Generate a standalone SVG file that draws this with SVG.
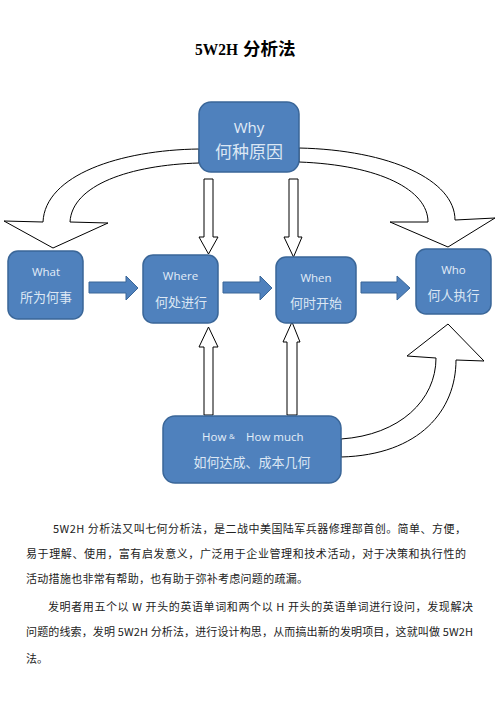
<svg xmlns="http://www.w3.org/2000/svg" width="496" height="702" viewBox="0 0 496 702">
<style>
.node{fill:#4F81BD;stroke:#3A6698;stroke-width:1.5}
.en{font-family:"Open Sans","Noto Sans",sans-serif;fill:#E3EDF8;text-anchor:middle}
.zh{font-family:"Noto Sans CJK SC",sans-serif;fill:#DCE7F4;text-anchor:middle}
.outline{fill:#fff;stroke:#000;stroke-width:1}
.block{fill:#4F81BD;stroke:#3A6698;stroke-width:1}
.para{font-family:"Noto Sans CJK SC",sans-serif;font-size:11px;fill:#222}
.tlat{font-family:"Liberation Serif",serif;font-size:17px;font-weight:bold}
.tzh{font-family:"Noto Sans CJK SC",sans-serif;font-size:17.5px;font-weight:bold}
</style>
<rect width="496" height="702" fill="#fff"/>
<g id="title">
  <text x="195" y="55" class="tlat" fill="#000" textLength="43" lengthAdjust="spacingAndGlyphs">5W2H</text>
  <text x="243" y="55" class="tzh" fill="#000">分析法</text>
</g>

<g id="connectors">
  <path class="outline" d="M199,149 C120,150 45,175 43,222 L4,221 L53,248 L108,223 L70,222 C72,185 130,165 199,163 Z"/>
  <path class="outline" d="M299,148 C390,150 455,180 455,220 L495,218 L448,247 L390,222 L428,222 C428,190 380,165 299,162 Z"/>
  <path class="outline" d="M341,439 C400,435 436,400 436,358 L407,356 L448,324 L484,361 L456,360 C456,410 420,455 341,457 Z"/>
  <path class="outline" d="M204,179 L213,179 L213,237 L218,237 L208.5,254 L199,237 L204,237 Z"/>
  <path class="outline" d="M289,179 L298,179 L298,237 L302,237 L293.5,257 L284,237 L289,237 Z"/>
  <path class="outline" d="M204,415 L213,415 L213,347 L218,347 L208.5,327 L199,347 L204,347 Z"/>
  <path class="outline" d="M287,415 L297,415 L297,342 L300,342 L292,322 L283,342 L287,342 Z"/>
  <path class="block" d="M89,282 L126,282 L126,276 L138,288 L126,300 L126,293 L89,293 Z"/>
  <path class="block" d="M223,282 L260,282 L260,276 L272,288 L260,300 L260,293 L223,293 Z"/>
  <path class="block" d="M361,282 L397,282 L397,276 L410,288 L397,300 L397,293 L361,293 Z"/>
</g>

<g id="why">
  <rect class="node" x="199" y="102" width="100" height="70" rx="12"/>
  <text class="en" x="249" y="133" font-size="15">Why</text>
  <text class="zh" x="249" y="158" font-size="17">何种原因</text>
</g>
<g id="what">
  <rect class="node" x="8" y="251" width="75" height="68" rx="10"/>
  <text class="en" x="46" y="276" font-size="11.5">What</text>
  <text class="zh" x="46" y="302" font-size="13">所为何事</text>
</g>
<g id="where">
  <rect class="node" x="143" y="255" width="75" height="68" rx="10"/>
  <text class="en" x="180.5" y="280" font-size="11.5">Where</text>
  <text class="zh" x="181" y="307" font-size="13">何处进行</text>
</g>
<g id="when">
  <rect class="node" x="276" y="257" width="80" height="66" rx="10"/>
  <text class="en" x="316" y="282" font-size="11.5">When</text>
  <text class="zh" x="316" y="308" font-size="13">何时开始</text>
</g>
<g id="who">
  <rect class="node" x="416" y="249" width="75" height="65" rx="10"/>
  <text class="en" x="453.5" y="274" font-size="11.5">Who</text>
  <text class="zh" x="453.5" y="300" font-size="13">何人执行</text>
</g>
<g id="how">
  <rect class="node" x="163" y="416" width="178" height="67" rx="12"/>
  <text class="en" x="202" y="441" font-size="11.5" style="text-anchor:start">How</text>
  <text class="en" x="229" y="439" font-size="8" style="text-anchor:start">&amp;</text>
  <text class="en" x="246" y="441" font-size="11.5" style="text-anchor:start">How much</text>
  <text class="zh" x="252" y="467" font-size="13">如何达成、成本几何</text>
</g>

<g id="paragraph">
  <text class="para" x="53" y="533" textLength="413" lengthAdjust="spacing">5W2H 分析法又叫七何分析法，是二战中美国陆军兵器修理部首创。简单、方便，</text>
  <text class="para" x="26" y="558" textLength="440" lengthAdjust="spacing">易于理解、使用，富有启发意义，广泛用于企业管理和技术活动，对于决策和执行性的</text>
  <text class="para" x="26" y="583" textLength="282" lengthAdjust="spacing">活动措施也非常有帮助，也有助于弥补考虑问题的疏漏。</text>
  <text class="para" x="48" y="611" textLength="425" lengthAdjust="spacing">发明者用五个以 W 开头的英语单词和两个以 H 开头的英语单词进行设问，发现解决</text>
  <text class="para" x="26" y="636" textLength="447" lengthAdjust="spacing">问题的线索，发明 5W2H 分析法，进行设计构思，从而搞出新的发明项目，这就叫做 5W2H</text>
  <text class="para" x="26" y="663">法。</text>
</g>
</svg>
